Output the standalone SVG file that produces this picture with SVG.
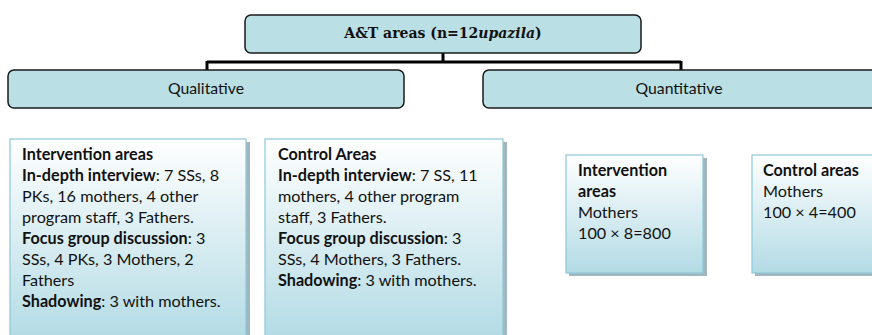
<svg xmlns="http://www.w3.org/2000/svg" width="872" height="335" viewBox="0 0 872 335">
  <style>
    .head { fill: #badfe4; stroke: #1a1a1a; stroke-width: 1.5; }
    .card { fill: url(#cardFill); stroke: #8cc8d8; stroke-width: 1.2; }
    .shadow { fill: #8aa4ad; opacity: 0.8; }
    .title { font-family: "DejaVu Serif", "Liberation Serif", serif; font-size: 14px; font-weight: bold; fill: #111; }
    .lbl { font-family: "Lato", "Liberation Sans", sans-serif; font-size: 15.8px; fill: #111; }
    .txt { font-family: "Lato", "Liberation Sans", sans-serif; font-size: 16.2px; fill: #111; }
    .b { font-weight: bold; }
    .wire { fill: none; stroke: #000; stroke-width: 3; }
  </style>
  <defs>
    <linearGradient id="cardFill" x1="0" y1="0" x2="0" y2="1">
      <stop offset="0" stop-color="#ffffff"/>
      <stop offset="1" stop-color="#b3dbe5"/>
    </linearGradient>
  </defs>

  <rect width="872" height="335" fill="#ffffff"/>

  <!-- connectors -->
  <g id="connectors">
    <path class="wire" d="M443,53 V62"/>
    <path class="wire" d="M207,62 H681"/>
    <path class="wire" d="M207,61 V70"/>
    <path class="wire" d="M681,61 V70"/>
  </g>

  <g id="root">
    <rect class="head" x="245" y="15" width="396" height="38" rx="6"/>
    <text class="title" x="443" y="38" text-anchor="middle">A&amp;T areas (n=12<tspan font-style="italic">upazila</tspan>)</text>
  </g>

  <g id="qualitative">
    <rect class="head" x="8" y="70" width="396" height="38" rx="6"/>
    <text class="lbl" x="206" y="94" text-anchor="middle">Qualitative</text>
  </g>

  <g id="quantitative">
    <rect class="head" x="483" y="70" width="400" height="38" rx="6"/>
    <text class="lbl" x="679" y="94" text-anchor="middle">Quantitative</text>
  </g>

  <g id="qual-intervention">
    <rect class="shadow" x="13" y="142" width="237" height="200"/>
    <rect class="card" x="10" y="139" width="236" height="200"/>
    <text class="txt">
      <tspan x="22" y="160" class="b">Intervention areas</tspan>
      <tspan x="22" y="181"><tspan class="b">In-depth interview</tspan>: 7 SSs, 8</tspan>
      <tspan x="22" y="202">PKs, 16 mothers, 4 other</tspan>
      <tspan x="22" y="223">program staff, 3 Fathers.</tspan>
      <tspan x="22" y="244"><tspan class="b">Focus group discussion</tspan>:  3</tspan>
      <tspan x="22" y="265">SSs, 4 PKs, 3 Mothers, 2</tspan>
      <tspan x="22" y="286">Fathers</tspan>
      <tspan x="22" y="307"><tspan class="b">Shadowing</tspan>: 3 with mothers.</tspan>
    </text>
  </g>

  <g id="qual-control">
    <rect class="shadow" x="268" y="142" width="239" height="200"/>
    <rect class="card" x="265" y="139" width="238" height="200"/>
    <text class="txt">
      <tspan x="278" y="160" class="b">Control Areas</tspan>
      <tspan x="278" y="181"><tspan class="b">In-depth interview</tspan>: 7 SS, 11</tspan>
      <tspan x="278" y="202">mothers, 4 other program</tspan>
      <tspan x="278" y="223">staff, 3 Fathers.</tspan>
      <tspan x="278" y="244"><tspan class="b">Focus group discussion</tspan>:  3</tspan>
      <tspan x="278" y="265">SSs, 4 Mothers, 3 Fathers.</tspan>
      <tspan x="278" y="286"><tspan class="b">Shadowing</tspan>: 3 with mothers.</tspan>
    </text>
  </g>

  <g id="quant-intervention">
    <rect class="shadow" x="569" y="158" width="138" height="118"/>
    <rect class="card" x="566" y="155" width="137" height="118"/>
    <text class="txt">
      <tspan x="578" y="176" class="b">Intervention</tspan>
      <tspan x="578" y="197" class="b">areas</tspan>
      <tspan x="578" y="218">Mothers</tspan>
      <tspan x="578" y="239">100 × 8=800</tspan>
    </text>
  </g>

  <g id="quant-control">
    <rect class="shadow" x="755" y="158" width="140" height="118"/>
    <rect class="card" x="752" y="155" width="140" height="118"/>
    <text class="txt">
      <tspan x="763" y="176" class="b">Control areas</tspan>
      <tspan x="763" y="197">Mothers</tspan>
      <tspan x="763" y="218">100 × 4=400</tspan>
    </text>
  </g>
</svg>
